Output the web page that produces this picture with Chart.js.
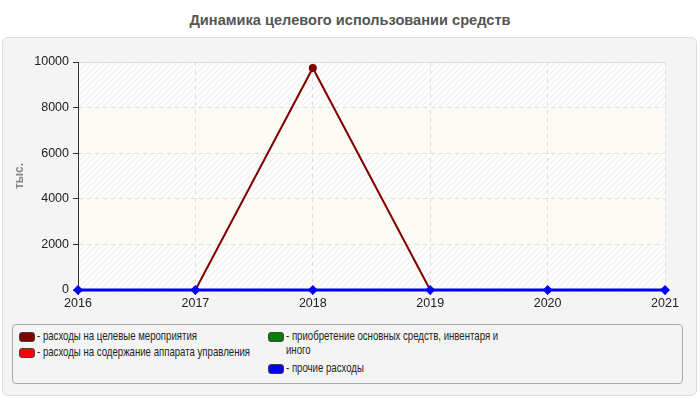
<!DOCTYPE html>
<html>
<head>
<meta charset="utf-8">
<script src="https://cdn.jsdelivr.net/npm/chart.js@4"></script>
<style>
  body { margin: 0; background: #fff; font-family: "Liberation Sans", Arial, sans-serif; }
  #wrap { position: relative; width: 700px; height: 400px; overflow: hidden; }
  #title { position: absolute; top: 12px; left: 0; width: 700px; text-align: center;
           font-weight: bold; font-size: 14.6px; color: #555; }
  #panel { position: absolute; left: 2px; top: 37px; width: 693px; height: 357px;
           background: #f4f4f4; border: 1px solid #ddd; border-radius: 6px; }
  #chart1 { position: absolute; left: 0; top: 0; }
  #legend { position: absolute; left: 12px; top: 324px; width: 669px; height: 58px;
            border: 1px solid #aaa; border-radius: 4px; background: #f4f4f4;
            font-size: 13px; color: #222; }
  .item { position: absolute; display: flex; line-height: 14px; }
  .sw { width: 14px; height: 8px; border: 1px solid #444; border-radius: 3px; margin: 3px 2px 0 0; flex: none; }
  .txt { display: inline-block; white-space: nowrap; transform: scaleX(0.74); transform-origin: 0 0; }
  .txt.wrap { white-space: normal; width: 296px; }
</style>
</head>
<body>
<div id="wrap">
  <div id="title">Динамика целевого использовании средств</div>
  <div id="panel"></div>
  <canvas id="chart1" width="700" height="400"></canvas>
  <div id="legend"></div>
</div>
<script>
// years and series (тыс.)
var years = ["2016", "2017", "2018", "2019", "2020", "2021"];
var targetEvents = [0, 0, 9740, 0, 0, 0];
var adminCosts = [0, 0, 0, 0, 0, 0];
var fixedAssets = [0, 0, 0, 0, 0, 0];
var otherCosts = [0, 0, 0, 0, 0, 0];
var seriesNames = [
    "расходы на целевые мероприятия",
    "расходы на содержание аппарата управления",
    "приобретение основных средств, инвентаря и иного",
    "прочие расходы"
];
var seriesColors = ["#800000", "#ff0000", "#008000", "#0000ff"];

// striped / plain bands behind the plot
var hatch = document.createElement('canvas');
hatch.width = 6; hatch.height = 6;
var hctx = hatch.getContext('2d');
hctx.fillStyle = '#fdfdfb';
hctx.fillRect(0, 0, 6, 6);
hctx.strokeStyle = '#ececec';
hctx.lineWidth = 1;
hctx.beginPath();
hctx.moveTo(-1, 7); hctx.lineTo(7, -1);
hctx.moveTo(-1, 1); hctx.lineTo(1, -1);
hctx.moveTo(5, 7); hctx.lineTo(7, 5);
hctx.stroke();

var bandsPlugin = {
    id: 'bands',
    beforeDraw: function (chart) {
        var a = chart.chartArea, y = chart.scales.y, c = chart.ctx;
        var pat = c.createPattern(hatch, 'repeat');
        c.save();
        y.ticks.forEach(function (t, i) {
            if (i === y.ticks.length - 1) return;
            var y0 = y.getPixelForValue(t.value), y1 = y.getPixelForValue(y.ticks[i + 1].value);
            c.fillStyle = (i % 2 === 0) ? pat : '#fcfcf5';
            c.fillRect(a.left, y1, a.right - a.left, y0 - y1);
        });
        c.restore();
    }
};

var ctx = document.getElementById("chart1").getContext('2d');
var datasets = [targetEvents, adminCosts, fixedAssets, otherCosts].map(function (d, i) {
    var isOther = i === 3;
    return {
        label: seriesNames[i],
        data: d,
        borderColor: seriesColors[i],
        backgroundColor: seriesColors[i],
        borderWidth: isOther ? 3 : 2,
        pointStyle: isOther ? 'rectRot' : 'circle',
        // zero points sit under the blue diamonds, so only draw the raised ones
        pointRadius: isOther ? 5 : function (c) { return c.raw ? 4 : 0; },
        pointBorderWidth: 0,
        fill: false,
        tension: 0,
        clip: false,
        order: 4 - i
    };
});

var chart1 = new Chart(ctx, {
    type: 'line',
    data: { labels: years, datasets: datasets },
    plugins: [bandsPlugin],
    options: {
        responsive: false,
        animation: false,
        layout: { padding: { left: 0, top: 62, right: 35, bottom: 90 } },
        plugins: { legend: { display: false }, tooltip: { enabled: false } },
        scales: {
            x: {
                offset: false,
                grid: { color: '#dddddd', tickColor: '#333', tickLength: 5, tickBorderDash: [] },
                border: { color: '#dddddd', dash: [4, 4] },
                ticks: { color: '#222', font: { size: 12.5, family: 'Liberation Sans' }, padding: 1, maxRotation: 0 },
                afterFit: function (s) { s.height = 20; }
            },
            y: {
                min: 0, max: 10000,
                ticks: {
                    stepSize: 2000, color: '#222', font: { size: 12.5, family: 'Liberation Sans' }, padding: 4,
                    callback: function (v) { return String(v); }
                },
                grid: { color: '#dddddd', tickColor: '#333', tickLength: 5, tickBorderDash: [] },
                border: { color: '#333', dash: function (c) { return c.tick && c.tick.value === 10000 ? [] : [4, 4]; } },
                title: {
                    display: true, text: 'тыс.', color: '#888', padding: { top: 12, bottom: 0 },
                    font: { size: 12, weight: 'bold', family: 'Liberation Sans' }
                },
                afterFit: function (s) { s.width = 78; }
            }
        }
    }
});

// legend in two columns, as in the original panel
var legend = document.getElementById('legend');
var spots = [[6, 4], [6, 20], [255, 4], [255, 36]];
chart1.data.datasets.forEach(function (ds, i) {
    var el = document.createElement('div');
    el.className = 'item';
    el.style.left = spots[i][0] + 'px';
    el.style.top = spots[i][1] + 'px';
    el.innerHTML = '<span class="sw" style="background:' + ds.borderColor + '"></span>' +
        '<span class="txt' + (i === 2 ? ' wrap' : '') + '">- ' + ds.label + '</span>';
    legend.appendChild(el);
});
</script>
</body>
</html>
